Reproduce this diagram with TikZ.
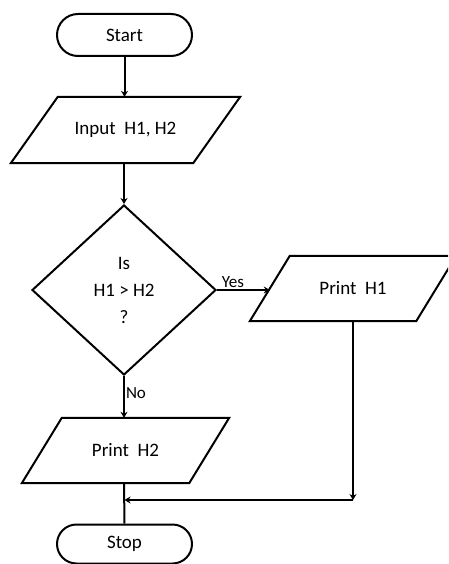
\documentclass[tikz,border=0pt]{standalone}
\usepackage{fontspec}
\setmainfont{Carlito}
\usetikzlibrary{shapes.geometric,shapes.misc,arrows.meta,calc}
\tikzset{
  txt/.style={font=\fontsize{19}{27}\selectfont, align=center, inner sep=0pt},
  term/.style={txt, draw=black, line width=2pt, rounded rectangle, minimum width=135pt},
  box/.style={txt, draw=none, rectangle},
  outline/.style={draw=black, line width=2pt, line join=miter},
  decision/.style={txt, draw=black, line width=2pt, diamond, minimum width=184pt, minimum height=170pt, aspect=1.08},
  conn/.style={line width=2pt, -{Stealth[length=6pt,width=7pt]}},
  plain/.style={line width=2pt},
  lbl/.style={font=\fontsize{17}{20}\selectfont, inner sep=1pt}
}
\newcommand{\parallelo}[2]{%
  \draw[outline] (#1.south west) -- ($(#1.north west)+(#2,0)$) -- (#1.north east) -- ($(#1.south east)-(#2,0)$) -- cycle;}
\begin{document}
\begin{tikzpicture}[x=1pt,y=-1pt]
\useasboundingbox (0,0) rectangle (448,564);
\clip (0,0) rectangle (448,564);
\node[term, minimum height=42pt] (start) at (124.5,35) {Start};
\node[box, minimum width=229pt, minimum height=66pt] (input) at (125.5,130) {Input\ \ H1, H2};
\parallelo{input}{47}
\node[decision] (dec) at (124,290) {Is\\H1 > H2\\?};
\node[box, minimum width=206pt, minimum height=65pt] (p1) at (353,288.5) {Print\ \ H1};
\parallelo{p1}{40}
\node[box, minimum width=207pt, minimum height=65pt] (p2) at (125.5,450.5) {Print\ \ H2};
\parallelo{p2}{40}
\node[term, minimum height=39pt] (stop) at (124.5,544) {Stop};
\coordinate (p1in) at ($(p1.west)+(20,0)$);
\coordinate (corner) at (p1.south |- 0,500);
\coordinate (join) at (start.south |- 0,500);
\draw[conn] (start.south) -- (start.south |- input.north);
\draw[conn] (input.south -| dec.north) -- (dec.north);
\draw[conn] (dec.east) -- (p1in |- dec.east) node[lbl, pos=0.3, above] {Yes};
\draw[conn] (dec.south) -- (dec.south |- p2.north) node[lbl, pos=0.4, right] {No};
\draw[plain] (p2.south -| dec.south) -- (stop.north);
\draw[conn] (p1.south) -- (corner);
\draw[conn] (corner) -- (join);
\end{tikzpicture}
\end{document}
